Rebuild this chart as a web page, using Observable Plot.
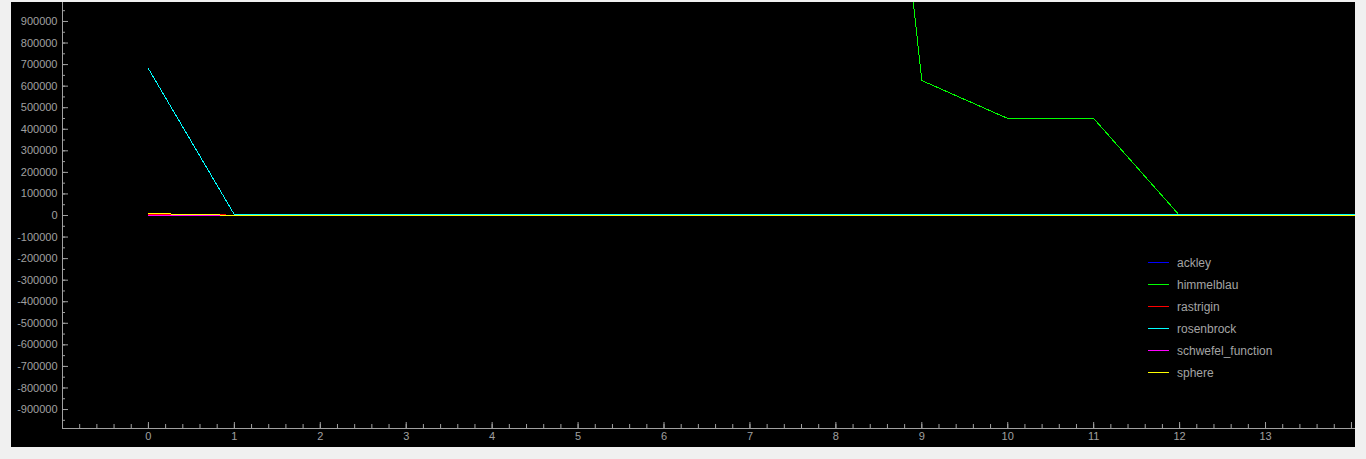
<!DOCTYPE html>
<html><head><meta charset="utf-8">
<script src="https://cdn.jsdelivr.net/npm/d3@7"></script>
<script src="https://cdn.jsdelivr.net/npm/@observablehq/plot@0.6"></script>
<style>
html,body{margin:0;padding:0;background:#f0f0f0;width:1366px;height:459px;overflow:hidden}
#panel{position:absolute;left:11px;top:2px;width:1344px;height:445px;background:#000}
#legend{position:absolute;left:1148px;top:252px;font:12px "Liberation Sans",Arial,sans-serif;color:#a4a4a4}
.row{height:22px;display:flex;align-items:center;white-space:nowrap}
.sw{display:block;width:21px;height:1px;margin-right:8px;align-self:flex-start;margin-top:10px}
</style></head><body><div id="panel"></div><div id="legend"></div>
<script>
const iterations = [0,1,2,3,4,5,6,7,8,9,10,11,12,13,14,15];
const ackley     = [20,0,0,0,0,0,0,0,0,0,0,0,0,0,0,0];
const himmelblau = [9800000,9100000,8500000,7900000,7200000,6400000,5600000,4900000,4300000,626000,450000,450000,0,0,0,0];
const rastrigin  = [5000,2000,0,0,0,0,0,0,0,0,0,0,0,0,0,0];
const rosenbrock = [681000,4000,4000,4000,4000,4000,4000,4000,4000,4000,4000,4000,4000,4000,4000,4000];
const schwefel_function = [800,0,0,0,0,0,0,0,0,0,0,0,0,0,0,0];
const sphere     = [9000,1000,0,0,0,0,0,0,0,0,0,0,0,0,0,0];

const seriesNames  = ["ackley","himmelblau","rastrigin","rosenbrock","schwefel_function","sphere"];
const seriesValues = [ackley, himmelblau, rastrigin, rosenbrock, schwefel_function, sphere];
const seriesColors = ["#0000ff","#00ff00","#ff0000","#00ffff","#ff00ff","#ffff00"];

const xDomain = [-1, 14.047];
const yDomain = [-988000, 988000];
const xMajorTicks = [0,1,2,3,4,5,6,7,8,9,10,11,12,13,14];
const xTickLabels = [0,1,2,3,4,5,6,7,8,9,10,11,12,13];
const xMinorTicks = d3.range(-0.8, 14.01, 0.2).map(v => Math.round(v*10)/10);
const yMajorTicks = d3.range(-900000, 900001, 100000);
const yMinorTicks = d3.range(-950000, 950001, 50000);

const rows = [];
seriesNames.forEach((name, i) => {
  iterations.forEach((it, j) => rows.push({series: name, x: it, y: seriesValues[i][j]}));
});

const axisColor = "#a0a0a0";
const chart = Plot.plot({
  width: 1344, height: 445,
  marginLeft: 51, marginRight: 0, marginTop: 0, marginBottom: 19,
  style: {background: "transparent", color: axisColor, fontFamily: "Liberation Sans, Arial, sans-serif", fontSize: "11px", overflow: "visible"},
  x: {domain: xDomain, label: null},
  y: {domain: yDomain, label: null},
  color: {domain: seriesNames, range: seriesColors},
  marks: [
    Plot.axisX(xMinorTicks, {tickSize: -4, tickFormat: () => "", stroke: axisColor, label: null}),
    Plot.axisX(xMajorTicks, {tickSize: -6, tickFormat: () => "", stroke: axisColor, label: null}),
    Plot.axisX(xTickLabels, {tickSize: 0, tickPadding: 4, fill: axisColor, label: null}),
    Plot.axisY(yMinorTicks, {tickSize: -3, tickFormat: () => "", stroke: axisColor, label: null}),
    Plot.axisY(yMajorTicks, {tickSize: -6, tickFormat: () => "", stroke: axisColor, label: null}),
    Plot.axisY(yMajorTicks, {tickSize: 0, tickPadding: 5, tickFormat: d => String(d), fill: axisColor, label: null}),
    Plot.ruleY([yDomain[0]], {stroke: axisColor}),
    Plot.ruleX([xDomain[0]], {stroke: axisColor}),
    Plot.line(rows, {x: "x", y: "y", z: "series", stroke: "series", strokeWidth: 1, clip: true, shapeRendering: "crispEdges"})
  ]
});
document.getElementById("panel").appendChild(chart);

const legend = document.getElementById("legend");
seriesNames.forEach((name, i) => {
  const r = document.createElement("div");
  r.className = "row";
  r.innerHTML = `<span class="sw" style="background:${seriesColors[i]}"></span><span>${name}</span>`;
  legend.appendChild(r);
});
</script></body></html>
